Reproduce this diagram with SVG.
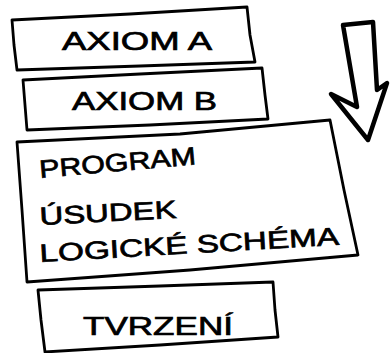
<svg xmlns="http://www.w3.org/2000/svg" width="392" height="353" viewBox="0 0 392 353">
<style>
.box{fill:none;stroke:#000;stroke-width:2.8;stroke-linejoin:round;stroke-linecap:round}
.t{font-family:"Liberation Sans","DejaVu Sans",sans-serif;font-size:25px;fill:#000;stroke:#000;stroke-width:0.7}
.arrow{fill:none;stroke:#000;stroke-width:4.5;stroke-linejoin:round;stroke-linecap:round}
</style>
<rect width="392" height="353" fill="#fff"/>
<g id="axiomA">
<path class="box" d="M12,20 L130,14 L247,7 L250,35 L255,62 L140,66 L17,70 L14,45 Z"/>
<text class="t" x="62" y="50" textLength="150" lengthAdjust="spacingAndGlyphs">AXIOM A</text>
</g>
<g id="axiomB">
<path class="box" d="M23,80 L140,74 L262,68 L265,95 L268,119 L150,125 L27,130 L25,105 Z"/>
<text class="t" x="72" y="110" textLength="145" lengthAdjust="spacingAndGlyphs">AXIOM B</text>
</g>
<g id="program">
<path class="box" d="M17,142 L180,134 L330,120 L344,190 L358,255 L190,270 L27,282 L22,210 Z"/>
<text class="t" transform="rotate(-5 40 178)" x="40" y="178" textLength="157" lengthAdjust="spacingAndGlyphs">PROGRAM</text>
<text class="t" transform="rotate(-3 40 225)" x="40" y="225" textLength="137" lengthAdjust="spacingAndGlyphs">ÚSUDEK</text>
<text class="t" transform="rotate(-3.3 40 262)" x="40" y="262" textLength="300" lengthAdjust="spacingAndGlyphs">LOGICKÉ SCHÉMA</text>
</g>
<g id="tvrzeni">
<path class="box" d="M38,290 L160,286 L273,282 L275,310 L278,337 L160,345 L45,352 L41,320 Z"/>
<text class="t" x="83" y="335" textLength="150" lengthAdjust="spacingAndGlyphs">TVRZENÍ</text>
</g>
<g id="connectors">
<path class="arrow" d="M343,25 L373,22 L377,90 L387,83 L368,140 L331,94 L357,107 Z"/>
</g>
</svg>
